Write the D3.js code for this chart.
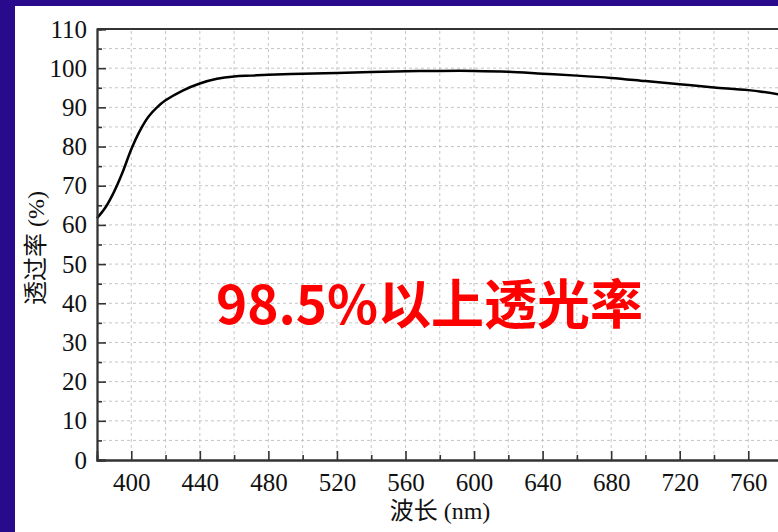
<!DOCTYPE html>
<html><head><meta charset="utf-8">
<script src="https://cdn.jsdelivr.net/npm/d3@7"></script>
<style>body{margin:0;background:#2a0a8c;} svg{display:block;}</style>
</head><body>
<svg id="c" width="778" height="532"></svg>
<script>
const wavelength = [380,385,390,395,400,405,410,415,420,430,440,450,460,470,480,500,520,540,560,580,600,620,640,660,680,700,720,740,760,780];
const transmittance = [61.7,64.5,68.5,73.5,79.3,84.0,87.6,90.0,91.8,94.3,96.1,97.3,97.9,98.1,98.3,98.6,98.8,99.0,99.2,99.3,99.3,99.1,98.6,98.1,97.5,96.7,95.9,95.1,94.4,93.2];
const xTicks = [400,440,480,520,560,600,640,680,720,760];
const yTicks = [0,10,20,30,40,50,60,70,80,90,100,110];
const xLabel = "波长 (nm)";
const yLabel = "透过率 (%)";
const note = "98.5%以上透光率";

const svg = d3.select("#c");
svg.append("rect").attr("width",778).attr("height",532).attr("fill","#2a0a8c");
svg.append("rect").attr("x",15).attr("y",6).attr("width",763).attr("height",526).attr("fill","#fff");

const x = d3.scaleLinear().domain([380,800]).range([97, 97+420*1.7139]);
const y = d3.scaleLinear().domain([0,110]).range([460,29]);
const serif = "'Liberation Serif','Noto Sans CJK SC',serif";

// grid
const g = svg.append("g");
g.selectAll(".gx").data(d3.range(400,801,20)).join("line")
  .attr("x1",d=>x(d)).attr("x2",d=>x(d)).attr("y1",y(0)).attr("y2",y(110))
  .attr("stroke","#c4c4c4").attr("stroke-width",1).attr("stroke-dasharray","3,3");
g.selectAll(".gy").data(d3.range(5,110,5)).join("line")
  .attr("x1",x(380)).attr("x2",x(800)).attr("y1",d=>y(d)).attr("y2",d=>y(d))
  .attr("stroke","#c4c4c4").attr("stroke-width",1).attr("stroke-dasharray","3,3");

// curve
const line = d3.line().x((d,i)=>x(wavelength[i])).y(d=>y(d)).curve(d3.curveCatmullRom.alpha(0.5));
svg.append("path").datum(transmittance).attr("d",line)
  .attr("fill","none").attr("stroke","#000").attr("stroke-width",2.5);

// axes
const yAxis = svg.append("g").attr("transform",`translate(${x(380)},0)`)
  .call(d3.axisLeft(y).tickValues(yTicks).tickSize(-9).tickPadding(10));
const yMinor = svg.append("g").attr("transform",`translate(${x(380)},0)`)
  .call(d3.axisLeft(y).tickValues(d3.range(5,110,10)).tickSize(-5).tickFormat(""));
const xAxis = svg.append("g").attr("transform",`translate(0,${y(0)})`)
  .call(d3.axisBottom(x).tickValues(xTicks).tickSize(-9).tickPadding(13));
const xMinor = svg.append("g").attr("transform",`translate(0,${y(0)})`)
  .call(d3.axisBottom(x).tickValues(d3.range(420,800,40)).tickSize(-5).tickFormat(""));
[yAxis,yMinor,xAxis,xMinor].forEach(a=>{
  a.select(".domain").attr("stroke","#333").attr("stroke-width",1.8);
  a.selectAll(".tick line").attr("stroke","#333").attr("stroke-width",1.6);
  a.selectAll("text").attr("font-family",serif).attr("font-size",25).attr("fill","#111");
});
xAxis.selectAll("text").attr("dy","0.71em");
svg.append("line").attr("x1",x(380)).attr("x2",x(800)).attr("y1",y(110)).attr("y2",y(110))
  .attr("stroke","#333").attr("stroke-width",1.8);

// labels
svg.append("text").attr("x",440).attr("y",519).attr("text-anchor","middle")
  .attr("font-family",serif).attr("font-size",24).attr("fill","#111").text(xLabel);
svg.append("text").attr("transform","translate(44,248) rotate(-90)").attr("text-anchor","middle")
  .attr("font-family",serif).attr("font-size",24).attr("fill","#111").text(yLabel);

svg.append("text").attr("x",216).attr("y",324)
  .attr("font-family","'Noto Sans CJK SC','Noto Sans',sans-serif").attr("font-weight","bold")
  .attr("font-size",53).attr("fill","#ff0000").text(note);
</script>
</body></html>
